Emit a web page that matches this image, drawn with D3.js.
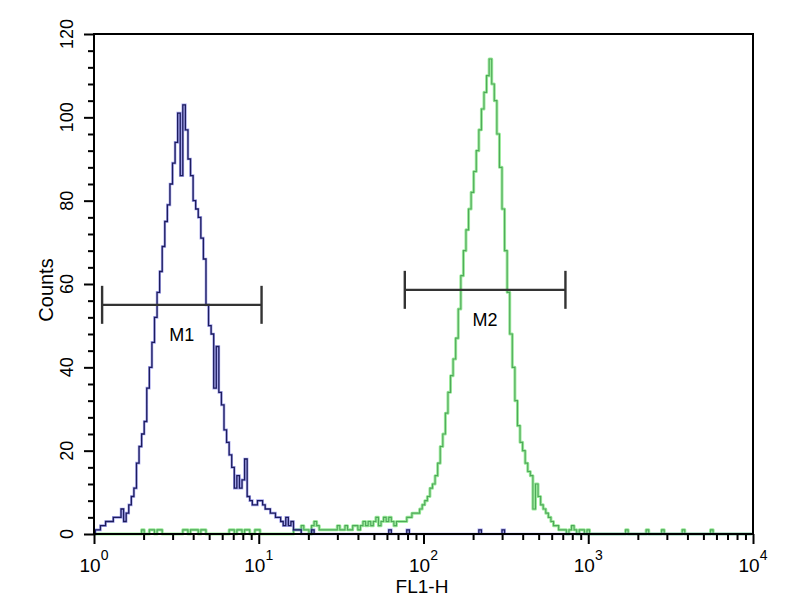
<!DOCTYPE html>
<html>
<head>
<meta charset="utf-8">
<script src="https://cdn.jsdelivr.net/npm/d3@7"></script>
<style>
  html, body { margin: 0; padding: 0; background: #fff; }
  svg { display: block; font-family: "Liberation Sans", Arial, sans-serif; }
</style>
</head>
<body>
<svg id="chart" width="800" height="600"></svg>
<script>
// ---- data ----
const channelsPerDecade = 64;
const xDomain = [1, 10000];
const yDomain = [0, 120];
const xMajorTicks = [1, 10, 100, 1000, 10000];
const xTickExponents = ["0", "1", "2", "3", "4"];
const yTickLabels = [0, 20, 40, 60, 80, 100, 120];
const yMinorStep = 4;
const xLabel = "FL1-H";
const yLabel = "Counts";

// control (blue) histogram counts per channel (256 channels, 64 / decade)
const blueCounts = [
  0,1,1,2,2,3,3,3,4,4,
  4,6,3,5,7,9,11,17,21,24,
  27,35,40,46,52,58,63,69,75,79,
  84,89,94,101,86,103,97,90,86,80,
  78,76,71,66,55,50,48,35,45,34,
  31,25,22,19,16,11,14,11,13,18,
  9,8,7,7,8,8,7,6,6,5,
  5,4,4,3,2,4,2,3,1,1,
  1,0,0,0,0,1,0,0,0,0,
  0,0,0,0,0,0,0,0,0,0,
  0,0,0,0,0,0,0,0,0,0,
  0,0,0,0,0,1,0,0,0,0,
  0,0,1,0,0,0,0,0,0,0,
  0,0,0,0,0,0,0,0,0,0,
  0,0,0,0,0,0,0,0,0,0,
  1,0,0,0,0,0,0,0,0,1,
  0,0,0,0,0,0,0,0,0,0,
  0,0,0,0,0,0,0,0,0,0,
  0,0,0,0,0,0,0,0,0,0,
  0,0,0,0,0,0,0,0,0,0,
  0,0,0,0,0,0,0,0,0,0,
  0,0,0,0,0,0,0,0,0,0,
  0,0,0,0,0,0,0,0,0,0,
  0,0,0,0,0,0,0,0,0,0,
  0,0,0,0,0,0,0,0,0,0,
  0,0,0,0,0,0
];

// antibody-stained (green) histogram counts per channel
const greenCounts = [
  0,0,0,0,0,0,0,0,0,0,
  0,0,0,0,0,0,0,0,0,1,
  0,0,1,1,0,1,1,0,0,0,
  0,0,0,0,0,1,1,0,1,1,
  1,0,1,1,0,0,0,0,0,0,
  0,0,0,1,1,0,1,1,0,1,
  1,0,0,1,1,0,0,0,0,0,
  0,0,0,0,0,0,0,0,1,1,
  1,2,1,1,0,2,3,2,1,1,
  1,1,1,1,1,2,1,1,2,1,
  1,2,2,1,2,3,2,3,2,3,
  4,2,3,4,3,4,3,2,3,3,
  3,3,4,4,5,5,5,6,7,8,
  9,11,12,14,17,21,24,29,34,38,
  42,47,54,62,68,73,78,82,87,92,
  97,102,106,110,114,108,104,96,88,78,
  68,58,48,40,32,26,22,20,17,15,
  14,6,12,9,7,6,5,4,3,2,
  2,1,1,1,0,1,2,1,0,1,
  1,0,1,0,0,0,0,0,0,0,
  0,0,0,0,0,0,0,1,0,0,
  0,0,0,0,0,1,0,0,0,0,
  0,1,0,0,0,0,0,0,0,1,
  0,0,0,0,0,0,0,0,0,0,
  1,0,0,0,0,0,0,0,0,0,
  0,0,0,0,0,0
];

// marker gates
const markerNames = ["M1", "M2"];
const markerStart = [1.12, 77];
const markerEnd = [10.4, 727];
const markerLevel = [55, 58.6];

// ---- layout ----
const svg = d3.select("#chart");
const plotLeft = 94, plotRight = 753, plotTop = 34, plotBottom = 534;

const x = d3.scaleLog().domain(xDomain).range([plotLeft, plotRight]).clamp(true);
const y = d3.scaleLinear().domain(yDomain).range([plotBottom, plotTop]);

// channel c covers [c-0.5, c+0.5] on the log axis
const chanVal = c => Math.pow(10, Math.max(0, c - 0.5) / channelsPerDecade);

function histPoints(counts) {
  const pts = counts.map((v, i) => [chanVal(i), v]);
  pts.push([chanVal(counts.length), counts[counts.length - 1]]);
  return pts;
}

const line = d3.line()
  .x(d => x(d[0]))
  .y(d => y(d[1]))
  .curve(d3.curveStepAfter);

// green histogram (halo + core)
svg.append("path").datum(histPoints(greenCounts))
  .attr("d", line).attr("fill", "none")
  .attr("stroke", "#9ceb9c").attr("stroke-width", 3).attr("stroke-linejoin", "round");
svg.append("path").datum(histPoints(greenCounts))
  .attr("d", line).attr("fill", "none")
  .attr("stroke", "#4fa85a").attr("stroke-width", 1.1);

// blue histogram
svg.append("path").datum(histPoints(blueCounts))
  .attr("d", line).attr("fill", "none")
  .attr("stroke", "#6a6ae0").attr("stroke-width", 2.6).attr("stroke-opacity", 0.6);
svg.append("path").datum(histPoints(blueCounts))
  .attr("d", line).attr("fill", "none")
  .attr("stroke", "#1c1c5e").attr("stroke-width", 1.3);

// frame
svg.append("rect")
  .attr("x", plotLeft).attr("y", plotTop)
  .attr("width", plotRight - plotLeft).attr("height", plotBottom - plotTop)
  .attr("fill", "none").attr("stroke", "#000").attr("stroke-width", 2);

// y axis ticks
const yMinor = d3.range(yDomain[0], yDomain[1] + 0.001, yMinorStep).filter(v => yTickLabels.indexOf(v) < 0);
const yMinorAxis = d3.axisLeft(y).tickValues(yMinor).tickSize(6).tickFormat("");
const yMajorAxis = d3.axisLeft(y).tickValues(yTickLabels).tickSize(10).tickFormat("");
[yMinorAxis, yMajorAxis].forEach(ax => {
  const g = svg.append("g").attr("transform", `translate(${plotLeft},0)`).call(ax);
  g.select(".domain").remove();
  g.selectAll("line").attr("stroke", "#000").attr("stroke-width", 2);
});
svg.append("g").selectAll("text").data(yTickLabels).join("text")
  .attr("transform", d => `translate(73,${y(d)}) rotate(-90)`)
  .attr("text-anchor", "middle")
  .attr("font-size", 18)
  .attr("fill", "#000")
  .text(d => d);

// x axis ticks
const xMinor = [];
for (let d = 0; d < 4; d++) for (let k = 2; k <= 9; k++) xMinor.push(k * Math.pow(10, d));
const xMinorAxis = d3.axisBottom(x).tickValues(xMinor).tickSize(6).tickFormat("");
const xMajorAxis = d3.axisBottom(x).tickValues(xMajorTicks).tickSize(10).tickFormat("");
[xMinorAxis, xMajorAxis].forEach(ax => {
  const g = svg.append("g").attr("transform", `translate(0,${plotBottom})`).call(ax);
  g.select(".domain").remove();
  g.selectAll("line").attr("stroke", "#000").attr("stroke-width", 2);
});
const xl = svg.append("g").selectAll("text").data(xMajorTicks).join("text")
  .attr("x", d => x(d)).attr("y", 572)
  .attr("text-anchor", "middle")
  .attr("font-size", 19)
  .attr("fill", "#000");
xl.append("tspan").text("10");
xl.append("tspan").attr("dy", -12).attr("font-size", 14).text((d, i) => xTickExponents[i]);

// axis titles
svg.append("text").attr("x", 422).attr("y", 593)
  .attr("text-anchor", "middle").attr("font-size", 19).attr("fill", "#000")
  .text(xLabel);
svg.append("text").attr("transform", "translate(53,290) rotate(-90)")
  .attr("text-anchor", "middle").attr("font-size", 20).attr("fill", "#000")
  .text(yLabel);

// markers
const mg = svg.append("g");
markerNames.forEach((name, i) => {
  const x0 = x(markerStart[i]), x1 = x(markerEnd[i]), yy = y(markerLevel[i]);
  const g = mg.append("g").attr("stroke", "#333").attr("stroke-width", 2.4);
  g.append("line").attr("x1", x0).attr("x2", x1).attr("y1", yy).attr("y2", yy);
  g.append("line").attr("x1", x0).attr("x2", x0).attr("y1", yy - 19).attr("y2", yy + 19);
  g.append("line").attr("x1", x1).attr("x2", x1).attr("y1", yy - 19).attr("y2", yy + 19);
  mg.append("text").attr("x", (x0 + x1) / 2).attr("y", yy + 36)
    .attr("text-anchor", "middle").attr("font-size", 18).attr("fill", "#000")
    .text(name);
});
</script>
</body>
</html>
